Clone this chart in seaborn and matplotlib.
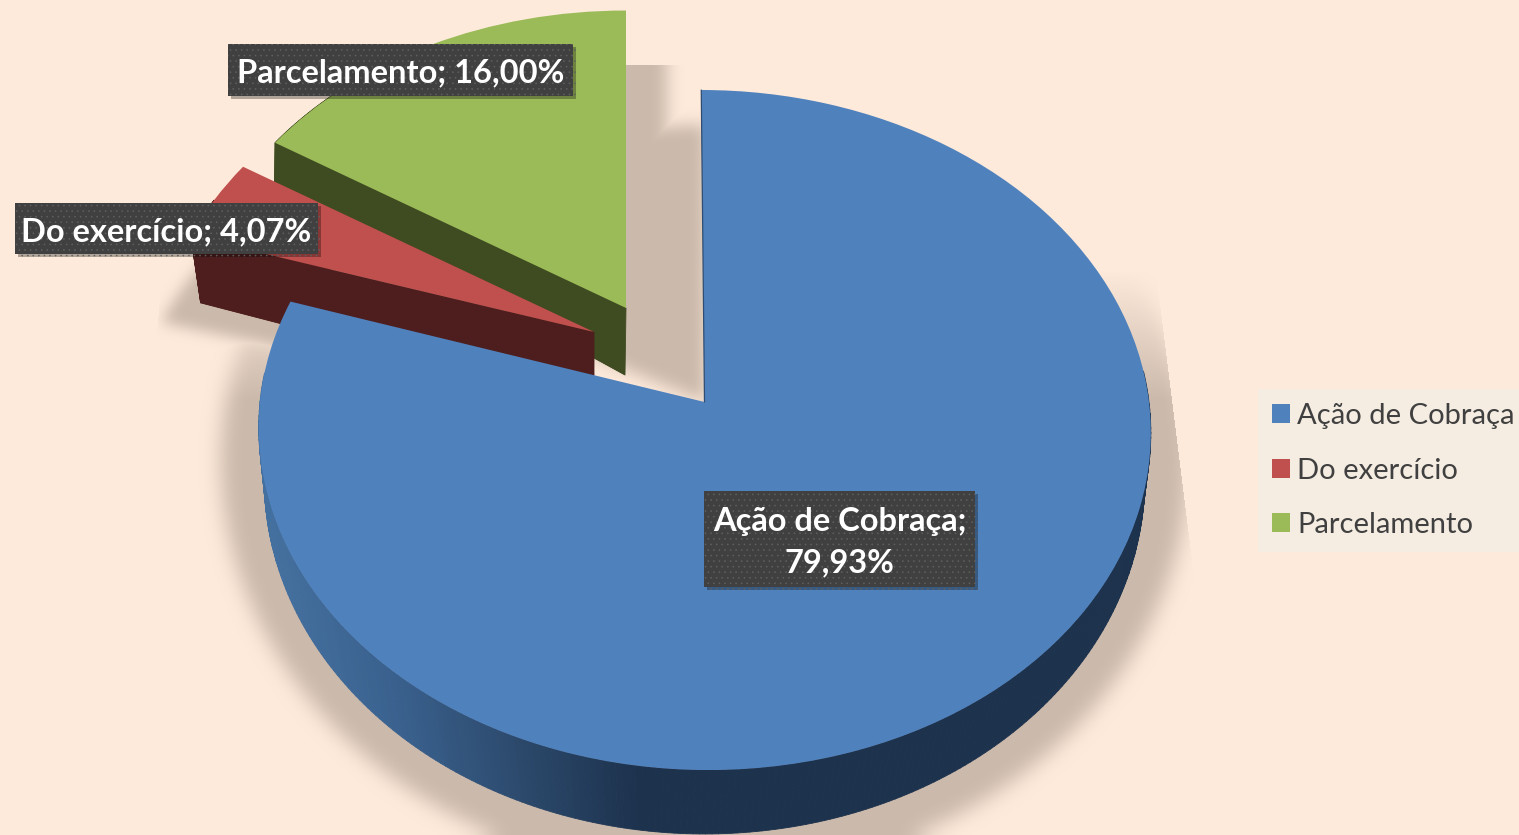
import numpy as np
import matplotlib
matplotlib.use("Agg")
import matplotlib.pyplot as plt
import seaborn as sns
from matplotlib.patches import Wedge, Rectangle
from matplotlib.path import Path
from matplotlib.collections import PolyCollection
from matplotlib.transforms import Transform
from matplotlib.colors import LinearSegmentedColormap, to_rgb
import matplotlib.patheffects as pe

categories = ["Ação de Cobraça", "Do exercício", "Parcelamento"]
values = [79.93, 4.07, 16.00]
labels = ["Ação de Cobraça;\n79,93%", "Do exercício; 4,07%", "Parcelamento; 16,00%"]

BG = "#fdeadb"
TOP = ["#4f81bd", "#c0504d", "#9bbb59"]
SHADOW = "#cbb9ab"
W, H = 1519, 835

sns.set_theme(style="white")
plt.rcParams["font.family"] = ["Lato", "DejaVu Sans"]
plt.rcParams["hatch.linewidth"] = 0.4


class Persp(Transform):
    input_dims = output_dims = 2
    is_affine = False
    has_inverse = False

    def __init__(self, cx, cy, rx, k, a, s=0.0):
        super().__init__()
        self.p = (cx, cy, rx, k, a, s)

    def transform_non_affine(self, xy):
        xy = np.asarray(xy, float)
        cx, cy, rx, k, a, s = self.p
        d = 1 + a * xy[:, 1]
        return np.column_stack([cx + (rx * xy[:, 0] + s * xy[:, 1]) / d, cy - k * xy[:, 1] / d])


fig = plt.figure(figsize=(W / 100, H / 100), dpi=100, facecolor=BG)
ax = fig.add_axes([0, 0, 1, 1])
wedges, _ = ax.pie(values, colors=TOP, startangle=90, counterclock=False, radius=1,
                   wedgeprops=dict(linewidth=0))
ax.set_facecolor(BG)
ax.set_axis_on()
ax.patch.set_visible(True)
for s in ax.spines.values():
    s.set_visible(False)
ax.set_xticks([])
ax.set_yticks([])

# top and bottom faces of each slice: blue, red, green
top_p = [Persp(704.5, 402, 444.5, 337.7, 0.0824, -3.5),
         Persp(594, 332, 434, 322, 0.0824),
         Persp(626, 308, 434, 322, 0.0824)]
bot_p = [Persp(704.5, 469, 440, 354, 0.03),
         Persp(594, 405, 413, 335, 0.0),
         Persp(625, 375, 415, 358, 0.0)]


# ---- soft shadows, blurred into one picture laid under the pie
def box_blur(a, width):
    out = a
    pad = width * 2
    for axis in (0, 1):
        for _ in range(3):
            widths = [(pad, pad) if ax_i == axis else (0, 0) for ax_i in (0, 1)]
            c = np.cumsum(np.pad(out, widths, mode="edge"), axis=axis)
            c = np.moveaxis(c, axis, 0)
            r = (c[width:] - c[:-width]) / width
            start = pad - width // 2 - 1
            out = np.moveaxis(r[start:start + a.shape[axis]], 0, axis)
    return out


def wedge_mask(w, proj, X, Y):
    th = np.radians(np.linspace(w.theta1, w.theta2, 400))
    uv = np.vstack([[0, 0], np.column_stack([np.cos(th), np.sin(th)])])
    poly = Path(proj.transform_non_affine(uv))
    return poly.contains_points(np.column_stack([X.ravel(), Y.ravel()])).reshape(X.shape).astype(float)


X, Y = np.meshgrid(np.arange(W) + 0.5, np.arange(H) + 0.5)
blue_clip = (X <= np.where(Y < 600, 1167 + (Y - 360) * 0.125, 1197)) * np.clip((Y - 270) / 130, 0, 1)
red_clip = X >= np.where(Y < 345, 156 + (345 - Y) * 0.085, 156)
green_clip = Y >= 65
shadow_specs = [
    (0, Persp(705, 460, 484, 416, 0.0), 19, blue_clip),
    (1, Persp(592, 412, 452, 293, 0.0), 13, red_clip),
    (2, Persp(667, 372, 434, 350, 0.0824), 15, green_clip),
    (2, Persp(706, 402, 434, 277, 0.0), 15, green_clip),
]
alpha_map = np.zeros((H, W))
for idx, pr, blur, clip in shadow_specs:
    alpha_map = np.maximum(alpha_map, box_blur(wedge_mask(wedges[idx], pr, X, Y), blur) * clip)
shadow_img = np.dstack([np.full((H, W), c) for c in to_rgb(SHADOW)] + [alpha_map])
ax.imshow(shadow_img, extent=(0, W, H, 0), aspect="auto", interpolation="nearest", zorder=1)

ax.set_xlim(0, W)
ax.set_ylim(H, 0)
ax.set_aspect("auto")

grad = LinearSegmentedColormap.from_list(
    "side", ["#44709f", "#3a618e", "#2c4a6d", "#1d324d"], N=128)
dark_solid = [None, "#4d1e1d", "#3f4b20"]
zo = {2: 2, 1: 4, 0: 6}


def side_quads(w, tp, bp, big):
    th = np.radians(np.linspace(w.theta1, w.theta2, 361))
    if big:
        th = np.sort(th[np.sin(th) < 0.1])
    else:
        th = th[len(th) // 2:]
    uv = np.column_stack([np.cos(th), np.sin(th)])
    t = tp.transform_non_affine(uv)
    b = bp.transform_non_affine(uv)
    quads = [[t[i], t[i + 1], b[i + 1], b[i]] for i in range(len(th) - 1)]
    if not big:
        o = np.zeros((1, 2))
        t0, b0 = tp.transform_non_affine(o)[0], bp.transform_non_affine(o)[0]
        quads.append([t0, t[-1], b[-1], b0])
    return quads


for i, w in enumerate(wedges):
    tp, bp = top_p[i], bot_p[i]
    w.set_transform(tp + ax.transData)
    w.set_zorder(zo[i] + 0.5)
    quads = side_quads(w, tp, bp, i == 0)
    if i == 0:
        xs = np.array([q[0][0] for q in quads])
        cols = grad(np.clip((xs - 265) / 370, 0, 1))
    else:
        cols = dark_solid[i]
    pc = PolyCollection(quads, facecolors=cols, edgecolors=cols, linewidths=0.6,
                        transform=ax.transData, zorder=zo[i])
    ax.add_collection(pc)
    if i > 0:
        ax.add_patch(Wedge((0, 0), 1, w.theta1, w.theta2, transform=bp + ax.transData,
                           fc=dark_solid[i], ec="none", lw=0, zorder=zo[i] - 0.1))

# thin visible edge of the big slice along its vertical cut
ax.plot([0, 0], [0, 1], color="#2f4d72", lw=0.9, transform=top_p[0] + ax.transData, zorder=6.6)

# data labels
label_boxes = [(704, 491, 271, 96), (15, 203, 303, 51), (228, 44, 345, 52)]
for lab, (x, y, bw, bh) in zip(labels, label_boxes):
    r = Rectangle((x, y), bw, bh, fc="#404040", ec="#606060", lw=0, hatch="...", zorder=9.5)
    ax.add_patch(r)
    r.set_path_effects([pe.SimplePatchShadow(offset=(2, -2), shadow_rgbFace="#000000", alpha=0.3),
                        pe.Normal()])
    ax.text(x + bw / 2, y + bh / 2 + 3, lab, ha="center", va="center", color="white", fontsize=23.5,
            fontweight="bold", linespacing=1.53, zorder=10)

leg = ax.legend(wedges, categories, loc="center right", bbox_to_anchor=(1529 / W, 0.4365),
                bbox_transform=ax.transAxes, fontsize=21, frameon=True, fancybox=False,
                facecolor="#f5ece2", edgecolor="none", framealpha=1, labelcolor="#404040",
                handlelength=0.62, handleheight=0.62, handletextpad=0.24, labelspacing=0.98,
                borderpad=0.48, borderaxespad=0)
leg.set_zorder(12)

fig.savefig("out.png", dpi=100, facecolor=BG)
